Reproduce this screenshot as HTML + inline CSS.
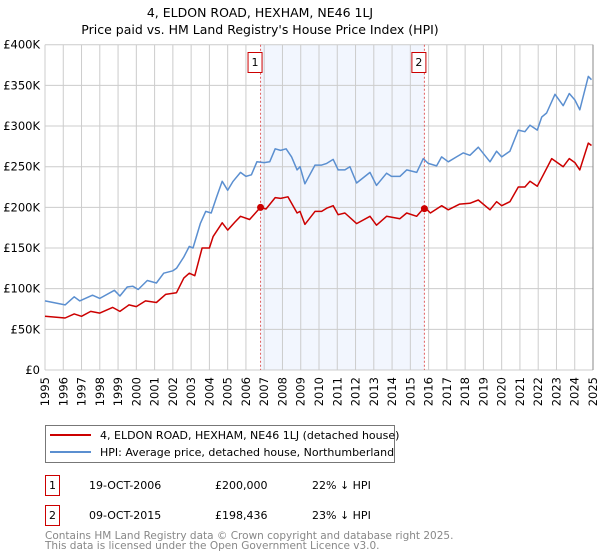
<!DOCTYPE html>
<html><head><meta charset="utf-8"><style>
body{margin:0;background:#fff;}
svg{display:block;font-family:"DejaVu Sans","Liberation Sans",sans-serif;}
</style></head><body>
<svg id="chart" width="600" height="560" xmlns="http://www.w3.org/2000/svg">
<text x="260" y="17" font-size="12.5" text-anchor="middle">4, ELDON ROAD, HEXHAM, NE46 1LJ</text>
<text x="260" y="34" font-size="12.5" text-anchor="middle">Price paid vs. HM Land Registry's House Price Index (HPI)</text>
<g id="plot"></g>
<g>
<rect x="45.5" y="425.5" width="349" height="37" fill="#fff" stroke="#777"/>
<line x1="50" y1="435" x2="91" y2="435" stroke="#cc0000" stroke-width="2"/>
<text x="100" y="439" font-size="11">4, ELDON ROAD, HEXHAM, NE46 1LJ (detached house)</text>
<line x1="50" y1="452" x2="91" y2="452" stroke="#5b8fd0" stroke-width="2"/>
<text x="100" y="456" font-size="11">HPI: Average price, detached house, Northumberland</text>
</g>
<g font-size="11">
<rect x="45.5" y="475.5" width="14" height="20" fill="#fff" stroke="#cc0000"/>
<text x="52.5" y="489" text-anchor="middle">1</text>
<text x="89" y="489">19-OCT-2006</text>
<text x="215" y="489">£200,000</text>
<text x="312" y="489">22% ↓ HPI</text>
<rect x="45.5" y="505.5" width="14" height="20" fill="#fff" stroke="#cc0000"/>
<text x="52.5" y="519" text-anchor="middle">2</text>
<text x="89" y="519">09-OCT-2015</text>
<text x="215" y="519">£198,436</text>
<text x="312" y="519">23% ↓ HPI</text>
</g>
<text x="45" y="539" font-size="10.5" fill="#888">Contains HM Land Registry data © Crown copyright and database right 2025.</text>
<text x="45" y="549" font-size="10.5" fill="#888">This data is licensed under the Open Government Licence v3.0.</text>
</svg>
<script>
const hpiYears=[1995.0,1996.1,1996.6,1996.9,1997.6,1998.0,1998.8,1999.1,1999.5,1999.8,2000.1,2000.6,2001.1,2001.5,2002.0,2002.2,2002.6,2002.9,2003.1,2003.5,2003.8,2004.1,2004.4,2004.7,2005.0,2005.3,2005.7,2006.0,2006.3,2006.6,2007.0,2007.3,2007.6,2007.9,2008.2,2008.5,2008.8,2008.96,2009.23,2009.78,2010.14,2010.42,2010.78,2011.05,2011.42,2011.69,2012.06,2012.79,2013.15,2013.7,2013.97,2014.43,2014.8,2015.35,2015.71,2015.98,2016.44,2016.71,2017.08,2017.53,2017.9,2018.26,2018.72,2019.36,2019.72,2020.0,2020.45,2020.91,2021.27,2021.55,2021.95,2022.19,2022.46,2022.92,2023.37,2023.7,2024.01,2024.28,2024.74,2024.92];
const hpiValues=[85,80,90,85,92,88,98,91,102,103,99,110,107,119,122,125,139,152,150,180,195,193,213,232,221,232,243,238,240,256,255,256,272,270,272,262,246,250,229,252,252,254,259,246,246,250,230,243,227,242,238,238,246,243,260,254,251,262,256,262,267,264,274,256,269,262,269,295,293,301,295,311,316,339,325,340,332,320,361,357];
const priceYears=[1995.0,1996.1,1996.6,1997.0,1997.5,1998.0,1998.7,1999.1,1999.6,2000.0,2000.5,2001.1,2001.6,2002.2,2002.6,2002.9,2003.2,2003.6,2004.0,2004.2,2004.7,2005.0,2005.4,2005.7,2006.2,2006.8,2007.1,2007.6,2007.9,2008.3,2008.8,2008.96,2009.23,2009.78,2010.14,2010.42,2010.78,2011.05,2011.42,2012.06,2012.79,2013.15,2013.7,2014.43,2014.8,2015.35,2015.78,2016.1,2016.71,2017.08,2017.7,2018.26,2018.72,2019.36,2019.72,2020.0,2020.45,2020.91,2021.27,2021.55,2021.95,2022.28,2022.74,2023.37,2023.7,2024.01,2024.28,2024.74,2024.92];
const priceValues=[66,64,69,66,72,70,77,72,80,78,85,83,93,95,113,119,116,150,150,164,181,172,182,189,185,200,198,212,211,213,193,195,179,195,195,199,202,191,193,180,189,178,189,186,193,189,200,193,202,197,204,205,209,197,207,202,207,225,225,232,226,240,260,250,260,255,246,279,276];
const saleYears=[2006.8,2015.77];
const saleValues=[200,198.4];
const saleLabels=['1','2'];
const yTicks=[0,50,100,150,200,250,300,350,400];
const yTickLabels=['£0','£50K','£100K','£150K','£200K','£250K','£300K','£350K','£400K'];
const xTicks=[1995,1996,1997,1998,1999,2000,2001,2002,2003,2004,2005,2006,2007,2008,2009,2010,2011,2012,2013,2014,2015,2016,2017,2018,2019,2020,2021,2022,2023,2024,2025];

const L=45,R=593,T=44.7,B=370;
const xs=y=>L+(y-1995)/30*(R-L);
const ys=v=>B-v/400*(B-T);
const NS='http://www.w3.org/2000/svg';
const g=document.getElementById('plot');
function mk(tag,attrs,parent){const e=document.createElementNS(NS,tag);for(const k in attrs)e.setAttribute(k,attrs[k]);(parent||g).appendChild(e);return e;}

const shade=mk('rect',{x:xs(saleYears[0]),y:T,width:xs(saleYears[1])-xs(saleYears[0]),height:B-T,fill:'#eef3fd',opacity:0.75});


xTicks.forEach(t=>{
  const l=mk('line',{x1:xs(t),x2:xs(t),y1:T,y2:B,stroke:'#ccc','stroke-width':1});
  
  
  const tx=mk('text',{x:0,y:0,'font-size':11.5,'text-anchor':'end',transform:`translate(${xs(t)+4},${B+7}) rotate(-90)`});
  tx.textContent=t;
  
  
});
yTicks.forEach((t,i)=>{
  const l=mk('line',{x1:L,x2:R,y1:ys(t),y2:ys(t),stroke:'#ccc','stroke-width':1});
  
  
  const tx=mk('text',{x:40,y:ys(t)+4,'font-size':11.5,'text-anchor':'end'});
  tx.textContent=yTickLabels[i];
  
  
});
const rb=mk('line',{x1:R,x2:R,y1:T,y2:B,stroke:'#888','stroke-width':1});



saleYears.forEach((y,i)=>{
  const l=mk('line',{x1:xs(y),x2:xs(y),y1:T,y2:B,stroke:'#e06060','stroke-width':1,'stroke-dasharray':'2,2'});
  
  
  const r=mk('rect',{x:xs(y)-12.5,y:52.5,width:14,height:20,fill:'#fff',stroke:'#cc0000'});
  
  
  const tx=mk('text',{x:xs(y)-5.5,y:66,'font-size':11,'text-anchor':'middle'});
  tx.textContent=saleLabels[i];
  
  
});

function line(xsArr,vArr,color,name){
  const d=xsArr.map((x,i)=>(i?'L':'M')+xs(x).toFixed(1)+','+ys(vArr[i]).toFixed(1)).join(' ');
  const p=mk('path',{d:d,fill:'none',stroke:color,'stroke-width':1.5,'stroke-linejoin':'round'});
  
  
}
line(hpiYears,hpiValues,'#5b8fd0','hpi-line');
line(priceYears,priceValues,'#cc0000','price-paid-line');
saleYears.forEach((y,i)=>{
  const c=mk('circle',{cx:xs(y),cy:ys(saleValues[i]),r:3.5,fill:'#cc0000'});
  
  
});
</script>
</body></html>
